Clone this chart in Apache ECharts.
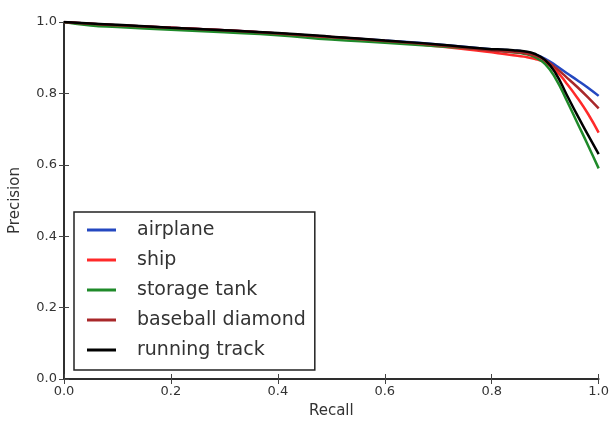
<!DOCTYPE html>
<html>
<head>
<meta charset="utf-8">
<script src="https://cdn.jsdelivr.net/npm/echarts@6/dist/echarts.min.js"></script>
<style>html,body{margin:0;padding:0;background:#fff;}#c{width:612px;height:426px;}</style>
</head>
<body>
<div id="c"></div>
<script>
const recall = [0, 0.05, 0.1, 0.2, 0.3, 0.4, 0.5, 0.6, 0.7, 0.8, 0.82, 0.84, 0.86, 0.88, 0.9, 0.92, 0.94, 0.96, 0.98, 1.0];
const seriesNames = ['airplane', 'ship', 'storage tank', 'baseball diamond', 'running track'];
const airplane =        [1.0, 0.995, 0.991, 0.984, 0.977, 0.968, 0.958, 0.948, 0.937, 0.924, 0.922, 0.920, 0.917, 0.910, 0.897, 0.878, 0.857, 0.837, 0.816, 0.793];
const ship =            [1.0, 0.995, 0.991, 0.984, 0.977, 0.968, 0.958, 0.947, 0.932, 0.915, 0.911, 0.907, 0.903, 0.897, 0.886, 0.864, 0.828, 0.788, 0.743, 0.690];
const storageTank =     [1.0, 0.99, 0.986, 0.978, 0.971, 0.963, 0.951, 0.942, 0.932, 0.922, 0.919, 0.915, 0.911, 0.902, 0.882, 0.840, 0.781, 0.718, 0.655, 0.590];
const baseballDiamond = [1.0, 0.995, 0.991, 0.984, 0.977, 0.968, 0.957, 0.947, 0.935, 0.920, 0.918, 0.916, 0.913, 0.906, 0.893, 0.871, 0.845, 0.818, 0.789, 0.758];
const runningTrack =    [1.0, 0.996, 0.992, 0.984, 0.977, 0.969, 0.959, 0.948, 0.937, 0.924, 0.923, 0.921, 0.918, 0.911, 0.893, 0.855, 0.797, 0.739, 0.684, 0.630];
const xTicks = [0, 0.2, 0.4, 0.6, 0.8, 1.0];
const yTicks = [0, 0.2, 0.4, 0.6, 0.8, 1.0];

const colors = ['#2448c0', '#ff2a2a', '#1f8a2a', '#a8282a', '#000000'];
const allData = [airplane, ship, storageTank, baseballDiamond, runningTrack];

const chart = echarts.init(document.getElementById('c'), null, {renderer: 'canvas'});
const font = 'DejaVu Sans';
const axisCommon = {
  type: 'value', min: 0, max: 1, interval: 0.2,
  splitLine: {show: false},
  axisLine: {show: true, lineStyle: {color: '#222', width: 1.5}},
  axisTick: {show: true, inside: true, length: 5, lineStyle: {color: '#444', width: 1}},
};
chart.setOption({
  animation: false,
  textStyle: {fontFamily: font},
  grid: {left: 64, top: 22, right: 10, bottom: 47},
  xAxis: [
    Object.assign({}, axisCommon, {
      position: 'bottom',
      name: 'Recall', nameLocation: 'middle', nameGap: 25,
      nameTextStyle: {fontSize: 15, color: '#333', fontFamily: font},
      axisLabel: {fontSize: 13, color: '#333', margin: 6, fontFamily: font,
        formatter: v => v.toFixed(1)}
    }),
    Object.assign({}, axisCommon, {position: 'top', axisLabel: {show: false}})
  ],
  yAxis: [
    Object.assign({}, axisCommon, {
      position: 'left',
      name: 'Precision', nameLocation: 'middle', nameGap: 41,
      nameTextStyle: {fontSize: 15, color: '#333', fontFamily: font},
      axisLabel: {fontSize: 13, color: '#333', margin: 7, fontFamily: font,
        formatter: v => v.toFixed(1)}
    }),
    Object.assign({}, axisCommon, {position: 'right', axisLabel: {show: false}})
  ],
  legend: {
    orient: 'vertical',
    left: 74, top: 212,
    padding: [8, 9, 10, 13],
    itemGap: 10,
    itemWidth: 29, itemHeight: 3,
    icon: 'rect',
    borderColor: '#222', borderWidth: 1.5, borderRadius: 0,
    backgroundColor: '#fff',
    data: seriesNames,
    textStyle: {fontSize: 19, color: '#333', fontFamily: font, lineHeight: 20, padding: [0, 0, 0, 16]}
  },
  series: seriesNames.map((n, i) => ({
    name: n,
    type: 'line',
    smooth: true,
    showSymbol: false,
    symbol: 'none',
    color: colors[i],
    lineStyle: {width: 2.5, color: colors[i]},
    data: recall.map((r, j) => [r, allData[i][j]])
  }))
});
</script>
</body>
</html>
